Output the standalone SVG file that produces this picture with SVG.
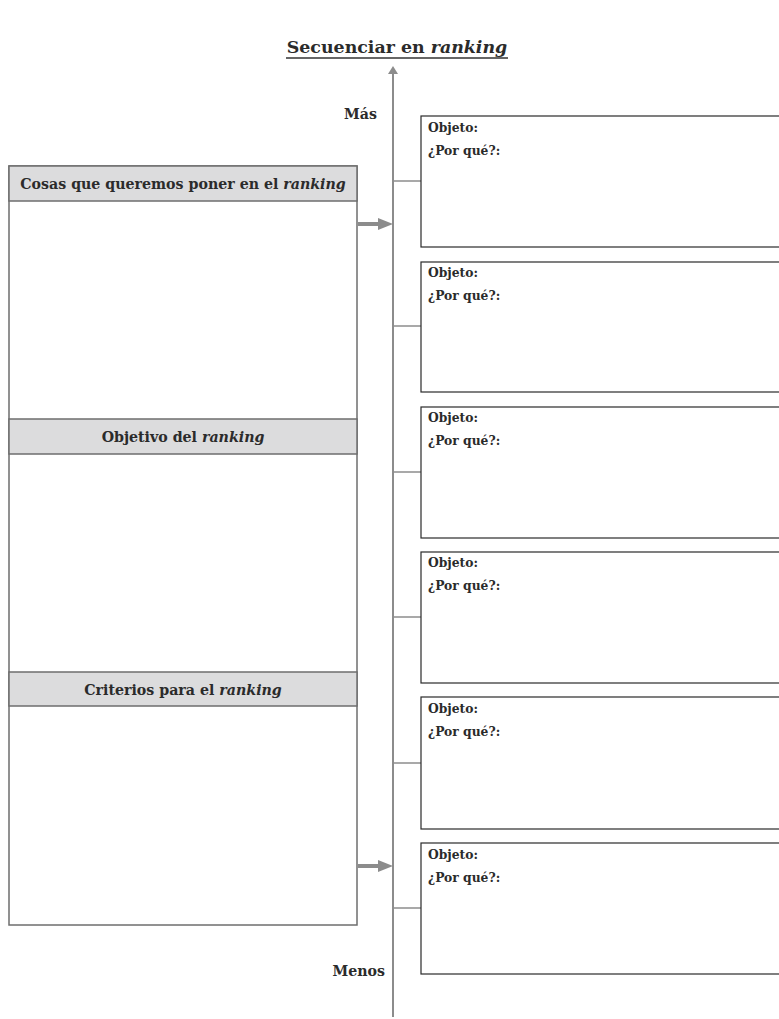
<svg xmlns="http://www.w3.org/2000/svg" width="779" height="1019" viewBox="0 0 779 1019">
  <defs>
    <style>
      .t { font-family: "DejaVu Serif", "Liberation Serif", serif; fill: #2b2b2b; font-weight: bold; }
      .hdr { fill: #dcdcdd; stroke: #6e6e6e; stroke-width: 1.5; }
      .panel { fill: #fff; stroke: #6e6e6e; stroke-width: 1.5; }
      .box { fill: #fff; stroke: #2a2a2a; stroke-width: 1.2; }
      .axis { stroke: #8c8c8c; stroke-width: 2; fill: none; }
      .tick { stroke: #8c8c8c; stroke-width: 1.5; fill: none; }
      .feed { stroke: #8c8c8c; stroke-width: 4; fill: none; }
      .lbl { font-size: 12.3px; }
      .head { font-size: 14.2px; }
    </style>
  </defs>

  <rect width="779" height="1019" fill="#fff"/>

  <!-- title -->
  <text class="t" x="397" y="53" font-size="17.4" text-anchor="middle">Secuenciar en <tspan font-style="italic">ranking</tspan></text>
  <line x1="286" y1="58" x2="508" y2="58" stroke="#333" stroke-width="1.3"/>

  <!-- left panel with three sections -->
  <g id="panel">
    <rect class="panel" x="9" y="166" width="348" height="759"/>
    <g id="sec-cosas">
      <rect class="hdr" x="9" y="166" width="348" height="35"/>
      <text class="t head" x="183" y="189" text-anchor="middle">Cosas que queremos poner en el <tspan font-style="italic">ranking</tspan></text>
    </g>
    <g id="sec-objetivo">
      <rect class="hdr" x="9" y="419" width="348" height="35"/>
      <text class="t head" x="183" y="442" text-anchor="middle">Objetivo del <tspan font-style="italic">ranking</tspan></text>
    </g>
    <g id="sec-criterios">
      <rect class="hdr" x="9" y="672" width="348" height="34"/>
      <text class="t head" x="183" y="695" text-anchor="middle">Criterios para el <tspan font-style="italic">ranking</tspan></text>
    </g>
  </g>

  <!-- axis, ticks and feed arrows -->
  <g id="connectors">
    <line class="axis" x1="393" y1="1017" x2="393" y2="72"/>
    <path d="M388,74 L393,66 L398,74 z" fill="#8c8c8c"/>
    <line class="tick" x1="393" y1="181" x2="421" y2="181"/>
    <line class="tick" x1="393" y1="326" x2="421" y2="326"/>
    <line class="tick" x1="393" y1="472" x2="421" y2="472"/>
    <line class="tick" x1="393" y1="617" x2="421" y2="617"/>
    <line class="tick" x1="393" y1="763" x2="421" y2="763"/>
    <line class="tick" x1="393" y1="908" x2="421" y2="908"/>
    <line class="feed" x1="358" y1="224" x2="379" y2="224"/>
    <path d="M378,218 L393,224 L378,230 z" fill="#8c8c8c"/>
    <line class="feed" x1="358" y1="866" x2="379" y2="866"/>
    <path d="M378,860 L393,866 L378,872 z" fill="#8c8c8c"/>
  </g>

  <!-- axis labels -->
  <text class="t head" x="377" y="119" text-anchor="end">Más</text>
  <text class="t head" x="385" y="976" text-anchor="end">Menos</text>

  <!-- ranked slots -->
  <g id="slot1">
    <rect class="box" x="421" y="116" width="370" height="131"/>
    <text class="t lbl" x="428" y="132">Objeto:</text>
    <text class="t lbl" x="428" y="155">¿Por qué?:</text>
  </g>
  <g id="slot2">
    <rect class="box" x="421" y="262" width="370" height="130"/>
    <text class="t lbl" x="428" y="277">Objeto:</text>
    <text class="t lbl" x="428" y="300">¿Por qué?:</text>
  </g>
  <g id="slot3">
    <rect class="box" x="421" y="407" width="370" height="131"/>
    <text class="t lbl" x="428" y="422">Objeto:</text>
    <text class="t lbl" x="428" y="445">¿Por qué?:</text>
  </g>
  <g id="slot4">
    <rect class="box" x="421" y="552" width="370" height="131"/>
    <text class="t lbl" x="428" y="567">Objeto:</text>
    <text class="t lbl" x="428" y="590">¿Por qué?:</text>
  </g>
  <g id="slot5">
    <rect class="box" x="421" y="697" width="370" height="132"/>
    <text class="t lbl" x="428" y="713">Objeto:</text>
    <text class="t lbl" x="428" y="736">¿Por qué?:</text>
  </g>
  <g id="slot6">
    <rect class="box" x="421" y="843" width="370" height="131"/>
    <text class="t lbl" x="428" y="859">Objeto:</text>
    <text class="t lbl" x="428" y="882">¿Por qué?:</text>
  </g>
</svg>
